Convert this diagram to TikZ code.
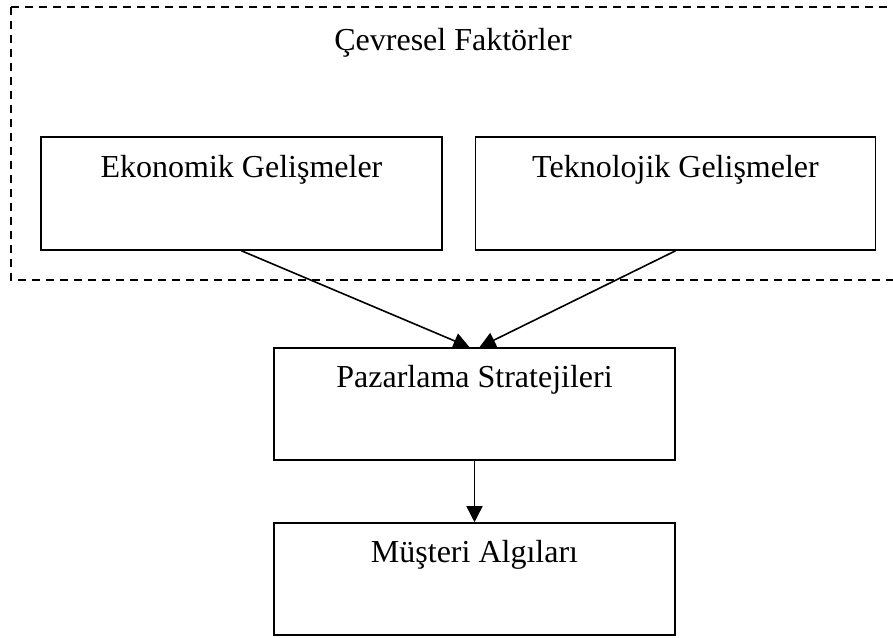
\documentclass[tikz,border=0pt]{standalone}
\usepackage{fontspec}
\setmainfont{Liberation Serif}
\usetikzlibrary{arrows.meta}
\begin{document}
\begin{tikzpicture}[x=1pt,y=-1pt,
  box/.style={draw, line width=1.6pt, rectangle, inner sep=0pt},
  caption/.style={anchor=base, inner sep=0pt, font=\fontsize{32}{38}\selectfont},
  link/.style={line width=1.6pt, -{Triangle[length=16pt,width=16pt]}},
  frame/.style={line width=1.6pt, dash pattern=on 8pt off 6pt}]
  \useasboundingbox (0,0) rectangle (893,637);
  \clip (0,0) rectangle (893,637);

  % outer dashed frame for the environmental factors
  \draw[frame] (11,7) |- (900,280);
  \draw[frame] (11,7) -- (900,7);
  \node[caption] (env) at (453,50) {Çevresel Faktörler};

  % boxes
  \node[box, minimum width=401pt, minimum height=113pt] (eko) at (241.5,193.5) {};
  \node[box, minimum width=400pt, minimum height=113pt] (tek) at (675.5,193.5) {};
  \node[box, minimum width=401pt, minimum height=112pt] (paz) at (474.5,404) {};
  \node[box, minimum width=401pt, minimum height=112pt] (mus) at (474.5,579) {};

  % box texts
  \node[caption] (ekoT) at ([yshift=-41pt]eko.north) {Ekonomik Gelişmeler};
  \node[caption] (tekT) at ([yshift=-41pt]tek.north) {Teknolojik Gelişmeler};
  \node[caption] (pazT) at ([yshift=-40pt]paz.north) {Pazarlama Stratejileri};
  \node[caption] (musT) at ([yshift=-40pt]mus.north) {Müşteri Algıları};

  % connectors
  \draw[link] (eko.south) -- ([xshift=-5pt]paz.north);
  \draw[link] (tek.south) -- ([xshift=5pt]paz.north);
  \draw[link] (paz.south) -- (mus.north);
\end{tikzpicture}
\end{document}
